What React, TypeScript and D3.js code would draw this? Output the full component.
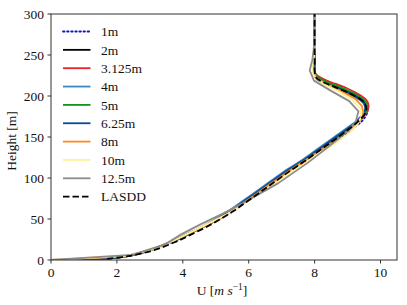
import * as d3 from 'd3';

// shared height grid for the fine-resolution runs [m]
const fineHeight = [0, 2, 5, 10, 15, 20, 25, 30, 40, 50, 60, 70, 80, 90, 100, 110, 120, 130, 140, 150, 160, 170, 180, 185, 190, 195, 200, 205, 210, 215, 220, 225, 230, 240, 260, 280, 300];

const u1m = [0, 1.75, 2.3, 2.85, 3.25, 3.55, 3.85, 4.1, 4.6, 5.1, 5.5, 5.85, 6.2, 6.55, 6.9, 7.25, 7.65, 8.0, 8.4, 8.8, 9.15, 9.45, 9.6, 9.6, 9.55, 9.42, 9.2, 8.95, 8.65, 8.35, 8.1, 8.0, 7.98, 8.0, 8.0, 8.0, 8.0];
const u2m = [0, 1.8, 2.35, 2.85, 3.25, 3.55, 3.85, 4.1, 4.6, 5.1, 5.5, 5.85, 6.2, 6.55, 6.9, 7.25, 7.65, 8.0, 8.35, 8.7, 9.05, 9.35, 9.55, 9.58, 9.55, 9.45, 9.25, 9.0, 8.7, 8.4, 8.15, 8.03, 8.0, 8.0, 8.0, 8.0, 8.0];
const u3125m = [0, 1.8, 2.35, 2.85, 3.25, 3.55, 3.85, 4.1, 4.6, 5.05, 5.45, 5.8, 6.15, 6.5, 6.85, 7.2, 7.6, 7.95, 8.3, 8.65, 9.0, 9.35, 9.58, 9.63, 9.63, 9.57, 9.42, 9.2, 8.95, 8.62, 8.3, 8.08, 8.0, 8.0, 8.0, 8.0, 8.0];
const u4m = [0, 1.8, 2.35, 2.85, 3.2, 3.5, 3.8, 4.05, 4.55, 5.0, 5.4, 5.75, 6.1, 6.45, 6.8, 7.15, 7.55, 7.9, 8.25, 8.6, 8.95, 9.28, 9.5, 9.53, 9.5, 9.38, 9.15, 8.9, 8.6, 8.3, 8.08, 8.0, 7.98, 8.0, 8.0, 8.0, 8.0];
const u5m = [0, 1.8, 2.35, 2.85, 3.25, 3.55, 3.85, 4.1, 4.6, 5.08, 5.48, 5.83, 6.18, 6.53, 6.88, 7.23, 7.62, 7.98, 8.33, 8.68, 9.03, 9.35, 9.56, 9.6, 9.58, 9.5, 9.33, 9.1, 8.83, 8.5, 8.22, 8.05, 8.0, 8.0, 8.0, 8.0, 8.0];
const u625m = [0, 1.8, 2.3, 2.8, 3.2, 3.5, 3.8, 4.05, 4.57, 5.05, 5.45, 5.8, 6.15, 6.5, 6.85, 7.2, 7.6, 7.95, 8.3, 8.65, 9.0, 9.3, 9.5, 9.55, 9.52, 9.4, 9.2, 8.95, 8.65, 8.35, 8.1, 8.0, 7.97, 7.98, 8.0, 8.0, 8.0];

const height8m = [0, 4, 12, 20, 28, 36, 44, 52, 60, 68, 76, 84, 92, 100, 108, 116, 124, 132, 140, 148, 156, 164, 172, 180, 188, 196, 204, 212, 220, 228, 236, 244, 252, 260, 268, 276, 284, 292, 300];
const u8m = [0, 2.2, 3.0, 3.5, 3.95, 4.4, 4.8, 5.2, 5.5, 5.78, 6.07, 6.35, 6.63, 6.92, 7.2, 7.5, 7.82, 8.1, 8.4, 8.7, 8.98, 9.22, 9.4, 9.48, 9.43, 9.25, 8.9, 8.5, 8.12, 7.97, 7.95, 7.98, 8.0, 8.0, 8.0, 8.0, 8.0, 8.0, 8.0];

const height10m = [0, 5, 15, 25, 35, 45, 55, 65, 75, 85, 95, 105, 115, 125, 135, 145, 155, 165, 175, 185, 195, 205, 215, 225, 235, 245, 255, 265, 275, 285, 295, 300];
const u10m = [0, 2.3, 3.3, 3.8, 4.3, 4.8, 5.3, 5.72, 6.1, 6.47, 6.85, 7.22, 7.6, 7.97, 8.35, 8.72, 9.05, 9.3, 9.42, 9.38, 9.15, 8.75, 8.25, 7.97, 7.92, 7.97, 8.0, 8.0, 8.0, 8.0, 8.0, 8.0];

const height125m = [0, 6.25, 18.75, 31.25, 43.75, 56.25, 68.75, 81.25, 93.75, 106.25, 118.75, 131.25, 143.75, 156.25, 168.75, 181.25, 193.75, 206.25, 218.75, 231.25, 243.75, 256.25, 268.75, 281.25, 293.75, 300];
const u125m = [0, 2.45, 3.45, 3.95, 4.55, 5.2, 5.8, 6.35, 6.9, 7.35, 7.8, 8.2, 8.6, 8.98, 9.25, 9.33, 9.05, 8.5, 7.98, 7.85, 7.93, 7.97, 8.0, 8.0, 8.0, 8.0];

const heightLasdd = [1.5, 5, 10, 15, 20, 25, 30, 40, 50, 60, 70, 80, 90, 100, 110, 120, 130, 140, 150, 160, 170, 180, 185, 190, 195, 200, 205, 210, 215, 220, 225, 230, 240, 260, 280, 300];
const uLasdd = [1.7, 2.4, 2.95, 3.35, 3.65, 3.95, 4.2, 4.7, 5.15, 5.55, 5.9, 6.25, 6.6, 6.95, 7.3, 7.68, 8.02, 8.37, 8.72, 9.05, 9.35, 9.55, 9.57, 9.53, 9.43, 9.22, 8.97, 8.67, 8.37, 8.12, 8.02, 8.0, 8.0, 8.0, 8.0, 8.0];

const xTicks = [0, 2, 4, 6, 8, 10];
const yTicks = [0, 50, 100, 150, 200, 250, 300];

type Series = { label: string; h: number[]; u: number[]; color: string; dash?: string; smooth: boolean; cap?: 'round' | 'butt' };

const series: Series[] = [
    { label: '1m', h: fineHeight, u: u1m, color: '#1010d0', dash: '1.5 2.6', smooth: true, cap: 'round' },
    { label: '2m', h: fineHeight, u: u2m, color: '#000000', smooth: true },
    { label: '3.125m', h: fineHeight, u: u3125m, color: '#e3242b', smooth: true },
    { label: '4m', h: fineHeight, u: u4m, color: '#3c86c4', smooth: true },
    { label: '5m', h: fineHeight, u: u5m, color: '#11951b', smooth: true },
    { label: '6.25m', h: fineHeight, u: u625m, color: '#0c4896', smooth: true },
    { label: '8m', h: height8m, u: u8m, color: '#ff8a1c', smooth: false },
    { label: '10m', h: height10m, u: u10m, color: '#fff09c', smooth: false },
    { label: '12.5m', h: height125m, u: u125m, color: '#8c8c8c', smooth: false },
    { label: 'LASDD', h: heightLasdd, u: uLasdd, color: '#000000', dash: '6.5 3', smooth: true },
];

const W = 407;
const H = 305;
const margin = { top: 14, right: 10, bottom: 45, left: 51 };
const innerW = W - margin.left - margin.right;
const innerH = H - margin.top - margin.bottom;
const font = 'Liberation Serif, DejaVu Serif, serif';
const fs = 13.5;

export default function App() {
    const x = d3.scaleLinear().domain([0, 10.5]).range([0, innerW]);
    const y = d3.scaleLinear().domain([0, 300]).range([innerH, 0]);

    const pathFor = (s: Series) => {
        const pts = s.h.map((h, i) => [s.u[i], h] as [number, number]);
        const line = d3
            .line<[number, number]>()
            .x(d => x(d[0]))
            .y(d => y(d[1]))
            .curve(s.smooth ? d3.curveCatmullRom.alpha(0.5) : d3.curveLinear);
        return line(pts) ?? '';
    };

    return (
        <div style={{ position: 'absolute', left: 0, top: 0 }}>
            <svg width={W} height={H} style={{ display: 'block', background: '#fff', fontFamily: font }}>
                <defs>
                    <clipPath id="plot-clip">
                        <rect x={0} y={0} width={innerW} height={innerH} />
                    </clipPath>
                </defs>
                <g transform={`translate(${margin.left},${margin.top})`}>
                    <g clipPath="url(#plot-clip)">
                        {series.map(s => (
                            <path
                                key={s.label}
                                d={pathFor(s)}
                                fill="none"
                                stroke={s.color}
                                strokeWidth={1.8}
                                strokeDasharray={s.dash}
                                strokeLinecap={s.cap ?? 'butt'}
                                strokeLinejoin="round"
                            />
                        ))}
                    </g>

                    <rect x={0} y={0} width={innerW} height={innerH} fill="none" stroke="#333" strokeWidth={1} />

                    {xTicks.map(t => (
                        <g key={t} transform={`translate(${x(t)},${innerH})`}>
                            <line y2={3.5} stroke="#333" />
                            <text y={16.5} textAnchor="middle" fontSize={fs} fill="#111">{t}</text>
                        </g>
                    ))}
                    {yTicks.map(t => (
                        <g key={t} transform={`translate(0,${y(t)})`}>
                            <line x2={-3.5} stroke="#333" />
                            <text x={-7} dy="0.35em" textAnchor="end" fontSize={fs} fill="#111">{t}</text>
                        </g>
                    ))}

                    <text x={innerW / 2 - 2} y={innerH + 35} textAnchor="middle" fontSize={fs} fill="#111">
                        {'U  ['}
                        <tspan fontStyle="italic">m s</tspan>
                        <tspan dy={-5} fontSize={9.5}>−1</tspan>
                        <tspan dy={5}>]</tspan>
                    </text>
                    <text
                        transform={`translate(${-35},${innerH / 2 + 4}) rotate(-90)`}
                        textAnchor="middle"
                        fontSize={fs}
                        fill="#111"
                    >
                        Height [m]
                    </text>

                    <g transform="translate(12,17.5)">
                        {series.map((s, i) => (
                            <g key={s.label} transform={`translate(0,${i * 18.35})`}>
                                <line
                                    x1={0}
                                    x2={27.5}
                                    stroke={s.color}
                                    strokeWidth={1.8}
                                    strokeDasharray={s.dash}
                                    strokeLinecap={s.cap ?? 'butt'}
                                />
                                <text x={38} dy="0.35em" fontSize={fs} fill="#111">{s.label}</text>
                            </g>
                        ))}
                    </g>
                </g>
            </svg>
        </div>
    );
}
